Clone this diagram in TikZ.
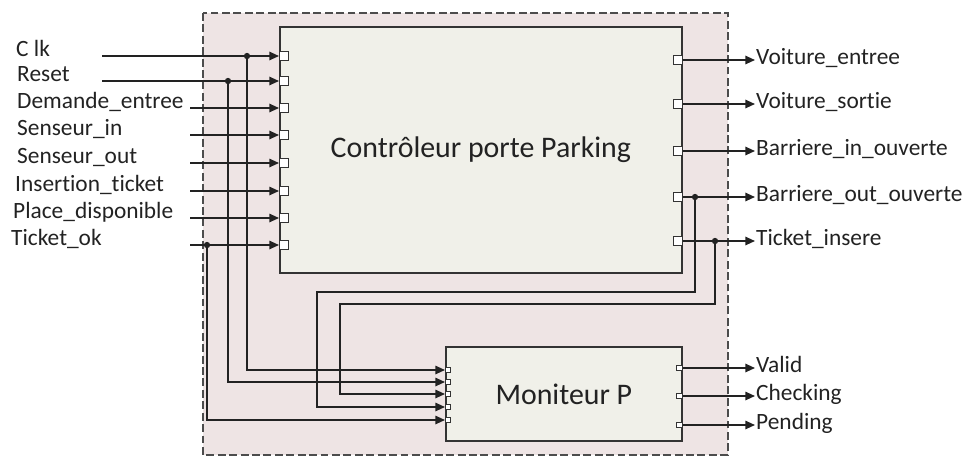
\documentclass[tikz,border=0pt]{standalone}
\usepackage{fontspec}
\setmainfont{Carlito}[Ligatures=NoCommon]
\usetikzlibrary{arrows.meta}

\definecolor{shellpink}{RGB}{238,228,228}
\definecolor{blockfill}{RGB}{240,240,233}
\definecolor{inkgray}{RGB}{34,34,34}

\tikzset{
  sig/.style={line width=0.9pt, inkgray},
  sigarrow/.style={sig, -{Triangle[length=5.5pt,width=4.8pt]}},
  frame/.style={draw=black!70, fill=shellpink, line width=0.8pt, dash pattern=on 4.5pt off 2pt},
  block/.style={draw=black!80, line width=1pt, fill=blockfill, anchor=north west, inner sep=0pt,
    text=inkgray, font=\fontsize{17}{20}\selectfont},
  bigport/.style={draw=black!80, fill=white, line width=0.6pt, minimum width=5pt, minimum height=5pt, inner sep=0pt},
  smallport/.style={bigport, minimum width=3pt, minimum height=2.8pt},
  lbl/.style={font=\fontsize{13.3}{15}\selectfont, text=inkgray, inner sep=0.5pt},
  dot/.style={circle, fill=inkgray, inner sep=0pt, minimum size=3.6pt}
}

\begin{document}
\begin{tikzpicture}[x=0.02cm, y=-0.02cm]
\useasboundingbox (0,0) rectangle (964,457);
\draw[frame] (203,13) rectangle (728,455);

% the two blocks
\node[block, minimum width=8.04cm, minimum height=4.92cm] (ctl) at (279,26) {Contrôleur porte Parking};
\node[block, minimum width=4.72cm, minimum height=1.88cm] (mon) at (445,346) {Moniteur P};

% inputs of the controller
\foreach \y/\xs/\xt/\txt [count=\i] in {56/102/15/C lk, 81/102/16/Reset,
    108/190/16/Demande\_entree, 135/190/16/Senseur\_in, 163/190/16/Senseur\_out,
    191/190/14/Insertion\_ticket, 218/190/12/Place\_disponible, 245/190/10/Ticket\_ok}{
  \node[bigport, anchor=west] (i\i) at (ctl.west |- 0,\y) {};
  \node[lbl, anchor=base west] (t\i) at (\xt,\y) {\txt};
  \coordinate (s\i) at (\xs,\y);
  \draw[sigarrow] (s\i) -- (i\i.west);
}

% outputs of the controller
\foreach \y/\txt [count=\i] in {60/Voiture\_entree, 104/Voiture\_sortie,
    151/Barriere\_in\_ouverte, 197/Barriere\_out\_ouverte, 241/Ticket\_insere}{
  \node[bigport, anchor=east] (o\i) at (ctl.east |- 0,\y) {};
  \node[lbl, anchor=base west] (r\i) at (755,\y+4.5) {\txt};
  \draw[sigarrow] (o\i.east) -- (o\i.east -| r\i.west);
}

% monitor ports
\foreach \y [count=\i] in {370,382,394,407,420}
  \node[smallport, anchor=west] (m\i) at (mon.west |- 0,\y) {};
\foreach \y/\txt [count=\i] in {368/Valid, 396/Checking, 425/Pending}{
  \node[smallport, anchor=east] (p\i) at (mon.east |- 0,\y) {};
  \node[lbl, anchor=base west] (v\i) at (755,\y+4.5) {\txt};
  \draw[sigarrow] (p\i.east) -- (p\i.east -| v\i.west);
}

% taps and feedback
\node[dot] (j1) at (247,56) {};
\node[dot] (j2) at (228,81) {};
\node[dot] (j3) at (207,245) {};
\node[dot] (j4) at (695,197) {};
\node[dot] (j5) at (715,241) {};
\coordinate (k4) at (317,292);
\coordinate (k5) at (340,304);
\draw[sigarrow] (j1.center) |- (m1.west);
\draw[sigarrow] (j2.center) |- (m2.west);
\draw[sigarrow] (j5.center) |- (k5) |- (m3.west);
\draw[sigarrow] (j4.center) |- (k4) |- (m4.west);
\draw[sigarrow] (j3.center) |- (m5.west);
\end{tikzpicture}
\end{document}
